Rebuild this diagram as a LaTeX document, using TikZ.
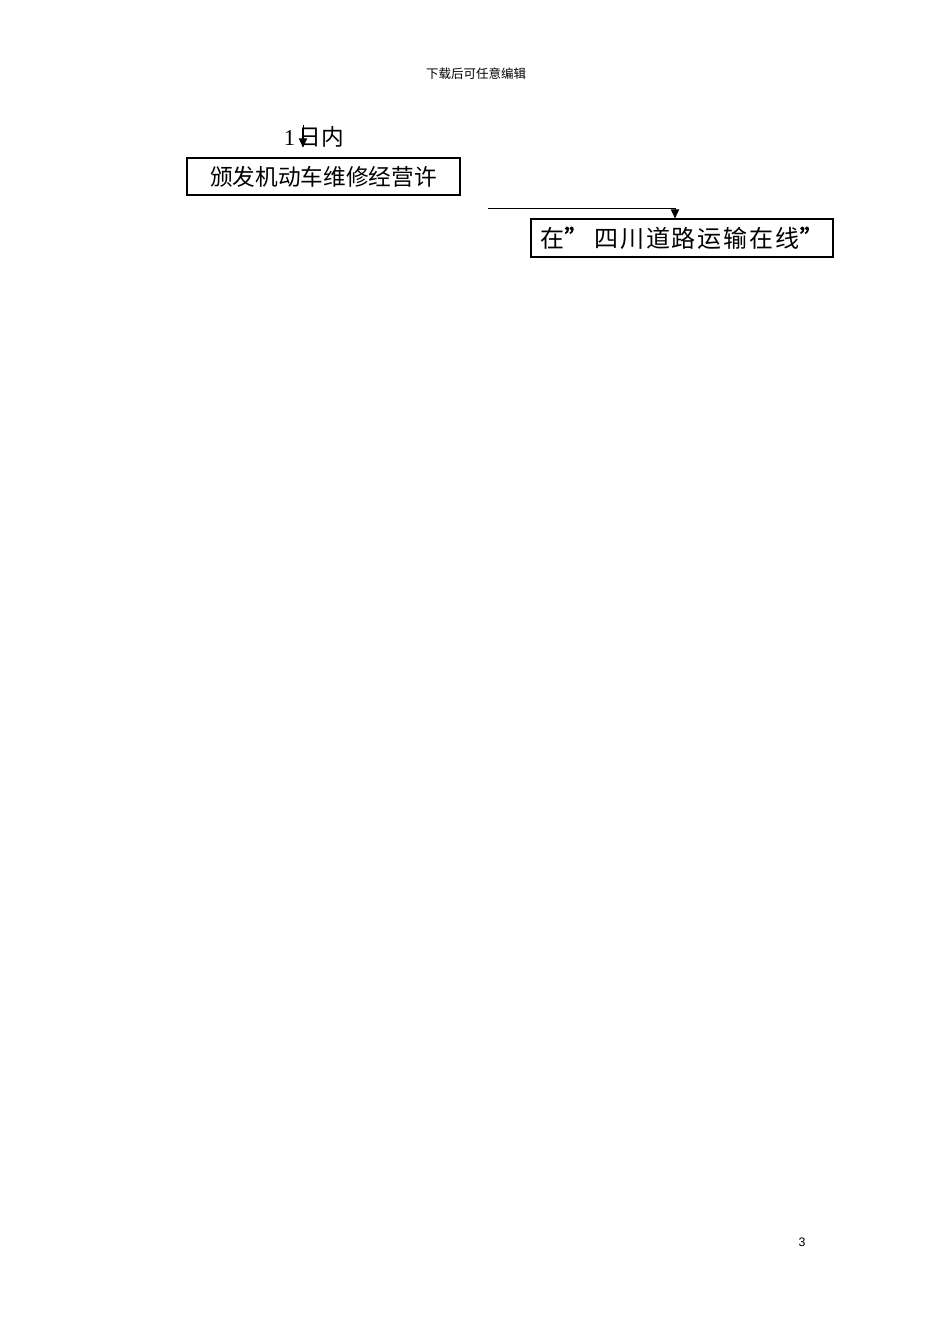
\documentclass[tikz,border=0pt]{standalone}
\usepackage{fontspec}
\setmainfont{Liberation Serif}
\newfontfamily\cjk{Noto Sans CJK SC}
\newfontfamily\cjkwide[LetterSpace=8]{Noto Sans CJK SC}
\newfontfamily\cjkquote[FakeBold=2.5]{Noto Sans CJK SC}
\newfontfamily\arialfont{Liberation Sans}
\usetikzlibrary{arrows.meta,positioning}

\begin{document}
\begin{tikzpicture}[x=0.6pt,y=-0.6pt,>={Triangle[width=5pt,length=5.5pt]},
    stepbox/.style={draw,line width=0.65pt,inner sep=0pt,font=\cjk\fontsize{13.6}{15}\selectfont}]
                \useasboundingbox (0,0) rectangle (950,1344);
                \node[font=\cjk\fontsize{7.5}{9}\selectfont](header) at (476,74) {下载后可任意编辑};
                \node[stepbox,minimum width=163.8pt,minimum height=22.2pt](permit) at (323.5,176.5) {颁发机动车维修经营许};
                \node[stepbox,minimum width=181.2pt,minimum height=22.8pt,
                    font=\cjkwide\fontsize{14.4}{16}\selectfont](online) at (682,238)
                    {在{\cjkquote ”}\hspace{3.5pt}四川道路运输在线{\cjkquote ”}};
                \node[font=\fontsize{13.6}{15}\selectfont,inner sep=0pt](days) at (314,137) {1\,{\cjk 日内}};
                \node[font=\arialfont\fontsize{7.4}{9}\selectfont](page) at (802,1242) {3};
                \coordinate (top) at (303,125);
                \coordinate (start) at (488,208);
                \coordinate (bend) at (675,208);
                \draw[->,line width=0.6pt,shorten >=6pt] (top) -- (top |- permit.north);
                \draw[->,line width=0.6pt] (start) -- (bend) -- (bend |- online.north);
            \end{tikzpicture}
\end{document}
